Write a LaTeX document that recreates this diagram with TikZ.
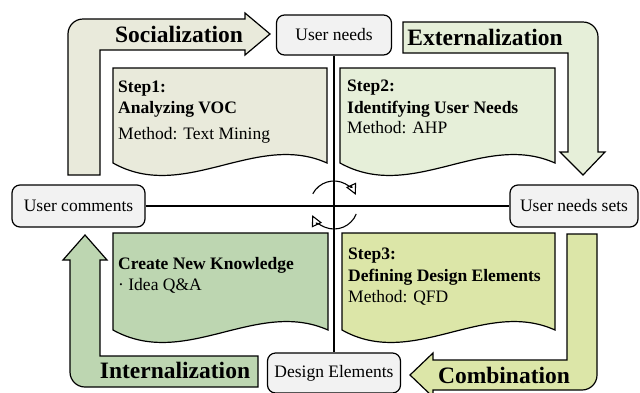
\documentclass[tikz,border=0pt]{standalone}
\usepackage{fontspec}
\setmainfont{Liberation Serif}
\usepackage{tikz}
\usetikzlibrary{arrows.meta}
\pgfdeclarelayer{bg}
\pgfsetlayers{bg,main}
\definecolor{boxgray}{HTML}{F2F2F2}
\definecolor{socfill}{HTML}{E9EADB}
\definecolor{extfill}{HTML}{E6EFD9}
\definecolor{combfill}{HTML}{DCE6A8}
\definecolor{intfill}{HTML}{BDD6B1}
\tikzset{
  stage/.style={draw, line width=1.2pt, rounded corners=8pt, fill=boxgray, inner sep=0pt,
    font=\fontsize{17.5}{21}\selectfont},
  modetext/.style={anchor=base, inner sep=0pt, font=\fontsize{23.5}{28}\selectfont\bfseries},
  steptext/.style={anchor=base west, inner sep=0pt, font=\fontsize{17.5}{21}\selectfont},
  stephead/.style={steptext, font=\fontsize{17.5}{21}\selectfont\bfseries},
  sheet/.style={draw, line width=1.2pt},
  turn/.style={line width=1.1pt, -{Triangle[open, length=11pt, width=11pt]}}
}
\begin{document}
\begin{tikzpicture}[x=1pt, y=-1pt]
        \useasboundingbox (0,0) rectangle (640,392);
        \clip (0,0) rectangle (640,392);
        % conversion arrows
        \path[sheet, fill=socfill] (68,175) -- (68,34) .. controls (68,25.7) and (74.7,19) .. (83,19)
                -- (245,19) -- (245,13) -- (270,34) -- (245,55) -- (245,50) -- (100,50) -- (100,175) -- cycle;
        \path[sheet, fill=extfill] (403,22) -- (583,22) .. controls (591.3,22) and (598,28.7) .. (598,37)
                -- (598,152) -- (605,152) -- (583,175) -- (560,152) -- (568,152) -- (568,53) -- (403,53) -- cycle;
        \path[sheet, fill=combfill] (597,234) -- (597,375) .. controls (597,383.3) and (590.3,390) .. (582,390)
                -- (433,390) -- (433,397) -- (410,375) -- (433,353) -- (433,360) -- (567,360) -- (567,234) -- cycle;
        \path[sheet, fill=intfill] (258,356) -- (258,387) -- (85,387) .. controls (76.7,387) and (70,380.3) .. (70,372)
                -- (70,260) -- (63,260) -- (85,235) -- (107,260) -- (100,260) -- (100,356) -- cycle;
        % step sheets
        \path[sheet, fill=socfill] (113,68) -- (327,68) -- (327,163) .. controls (256,131) and (184,203) .. (113,163) -- cycle;
        \path[sheet, fill=extfill] (340,68) -- (555,68) -- (555,163) .. controls (483,131) and (412,203) .. (340,163) -- cycle;
        \path[sheet, fill=combfill] (342,233) -- (555,233) -- (555,330) .. controls (484,298) and (413,370) .. (342,330) -- cycle;
        \path[sheet, fill=intfill] (113,233) -- (328,233) -- (328,330) .. controls (256,298) and (185,370) .. (113,330) -- cycle;

        \node (socLabel) [modetext] at (179,42) {Socialization};
        \node (extLabel) [modetext] at (485,45) {Externalization};
        \node (combLabel) [modetext] at (504,383) {Combination};
        \node (intLabel) [modetext] at (175,378) {Internalization};

        \node (s1head) [stephead] at (118,92) {Step1:};
        \node (s1name) [stephead] at (118,113) {Analyzing VOC};
        \node (s1method) [steptext] at (118,139) {Method: Text Mining};
        \node (s2head) [stephead] at (347,91) {Step2:};
        \node (s2name) [stephead] at (347,113) {Identifying User Needs};
        \node (s2method) [steptext] at (347,133) {Method: AHP};
        \node (s3head) [stephead] at (348,259) {Step3:};
        \node (s3name) [stephead] at (348,281) {Defining Design Elements};
        \node (s3method) [steptext] at (348,302) {Method: QFD};
        \node (s4name) [stephead] at (118,269) {Create New Knowledge};
        \node (s4idea) [steptext] at (118,290) {· Idea Q\&A};

        \node (needs) [stage, minimum width=115pt, minimum height=40pt] at (334,35) {User needs};
        \node (comments) [stage, minimum width=133pt, minimum height=42pt] at (78.5,206) {User comments};
        \node (sets) [stage, minimum width=128pt, minimum height=42pt] at (574,206) {User needs sets};
        \node (design) [stage, minimum width=133pt, minimum height=40pt] at (334,373) {Design Elements};
        \coordinate (hub) at (334,205);

        \begin{pgfonlayer}{bg}
                \draw [line width=1.2pt] (needs) -- (design);
                \draw [line width=1.2pt] (comments) -- (sets);
        \end{pgfonlayer}
        \draw [turn] (hub) ++(208:24) arc[start angle=208, end angle=335, radius=24];
        \draw [turn] (hub) ++(22:24) arc[start angle=22, end angle=155, radius=24];
\end{tikzpicture}
\end{document}
